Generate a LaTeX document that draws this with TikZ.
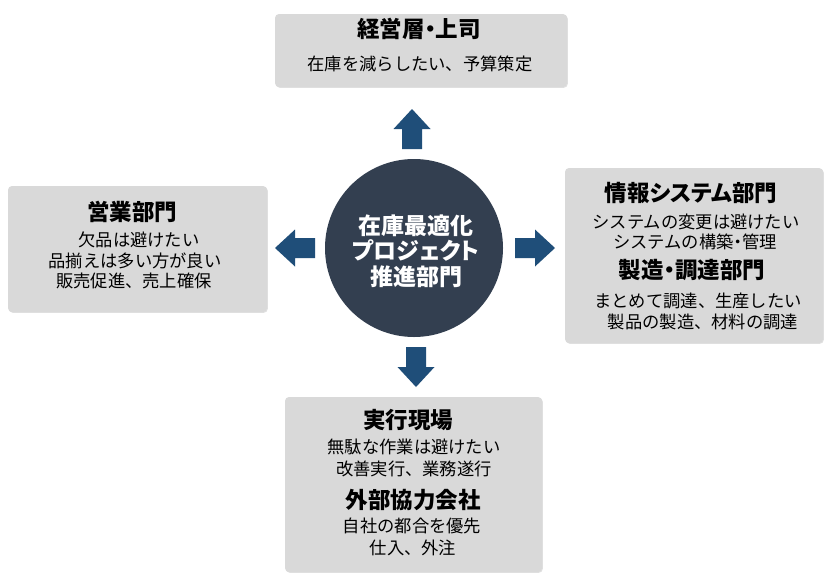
\documentclass[tikz,border=0pt]{standalone}
\usepackage{fontspec}
\setmainfont{Noto Sans CJK JP}
\newfontfamily\hubfont{Noto Sans CJK JP}[RawFeature=+palt]
\usetikzlibrary{shadows}
\definecolor{boxgray}{HTML}{D9D9D9}
\definecolor{hubnavy}{HTML}{333F50}
\definecolor{arrowblue}{HTML}{1F4E79}
\tikzset{
  box/.style={fill=boxgray, rounded corners=4pt, draw=none, inner sep=0pt,
    drop shadow={shadow xshift=0.8pt, shadow yshift=-0.8pt, fill=black, opacity=0.12}},
  ttl/.style={font=\hubfont\bfseries\fontsize{22.5}{22.5}\selectfont, inner sep=0pt, text=black},
  txt/.style={font=\fontsize{17.3}{17.3}\selectfont, inner sep=0pt, text=black},
  hubstyle/.style={circle, fill=hubnavy, minimum size=178pt, inner sep=0pt},
  hubtxt/.style={font=\hubfont\bfseries\fontsize{23}{25.5}\selectfont, text=white, align=center, inner sep=0pt},
  blockarrow/.pic={\fill[arrowblue] (0,-10) -- (20,-10) -- (20,-18.5) -- (40,0) -- (20,18.5) -- (20,10) -- (0,10) -- cycle;}
}
\begin{document}
\begin{tikzpicture}[x=1pt,y=-1pt]
\useasboundingbox (0,0) rectangle (835,582);
\fill[white] (0,0) rectangle (835,582);

% boxes
\node[box, minimum width=292pt, minimum height=73pt] (topbox) at (421,50.5) {};
\node[box, minimum width=259pt, minimum height=126pt] (leftbox) at (137.5,249) {};
\node[box, minimum width=258pt, minimum height=175pt] (rightbox) at (694,255.5) {};
\node[box, minimum width=257pt, minimum height=175pt] (bottombox) at (413.5,484.5) {};

% hub
\node[hubstyle] (hub) at (414,248) {};
\node[hubtxt] (hubtext) at (416,251) {在庫最適化\\プロジェクト\\推進部門};

% arrows
\pic (arrowup) at (412,149) [rotate=90] {blockarrow};
\pic (arrowleft) at (315,248) [rotate=180] {blockarrow};
\pic (arrowright) at (515,248) {blockarrow};
\pic (arrowdown) at (416,347) [rotate=-90] {blockarrow};

% top box texts
\node[ttl] (t1) at (419,29) {経営層・上司};
\node[txt] (t2) at (420,64) {在庫を減らしたい、予算策定};

% left box texts
\node[ttl] (l1) at (132,212) {営業部門};
\node[txt] (l2) at (139,240) {欠品は避けたい};
\node[txt] (l3) at (135,260.5) {品揃えは多い方が良い};
\node[txt] (l4) at (134,281) {販売促進、売上確保};

% right box texts
\node[ttl] (r1) at (691,193) {情報システム部門};
\node[txt] (r2) at (696,222) {システムの変更は避けたい};
\node[txt] (r3) at (695,242) {システムの構築{\hubfont ・}管理};
\node[ttl] (r4) at (692,270) {製造・調達部門};
\node[txt] (r5) at (698,301) {まとめて調達、生産したい};
\node[txt] (r6) at (703,322) {製品の製造、材料の調達};

% bottom box texts
\node[ttl] (b1) at (408,420) {実行現場};
\node[txt] (b2) at (414,447) {無駄な作業は避けたい};
\node[txt] (b3) at (414,469) {改善実行、業務遂行};
\node[ttl] (b4) at (413,500) {外部協力会社};
\node[txt] (b5) at (412,526) {自社の都合を優先};
\node[txt] (b6) at (413,548) {仕入、外注};
\end{tikzpicture}
\end{document}
